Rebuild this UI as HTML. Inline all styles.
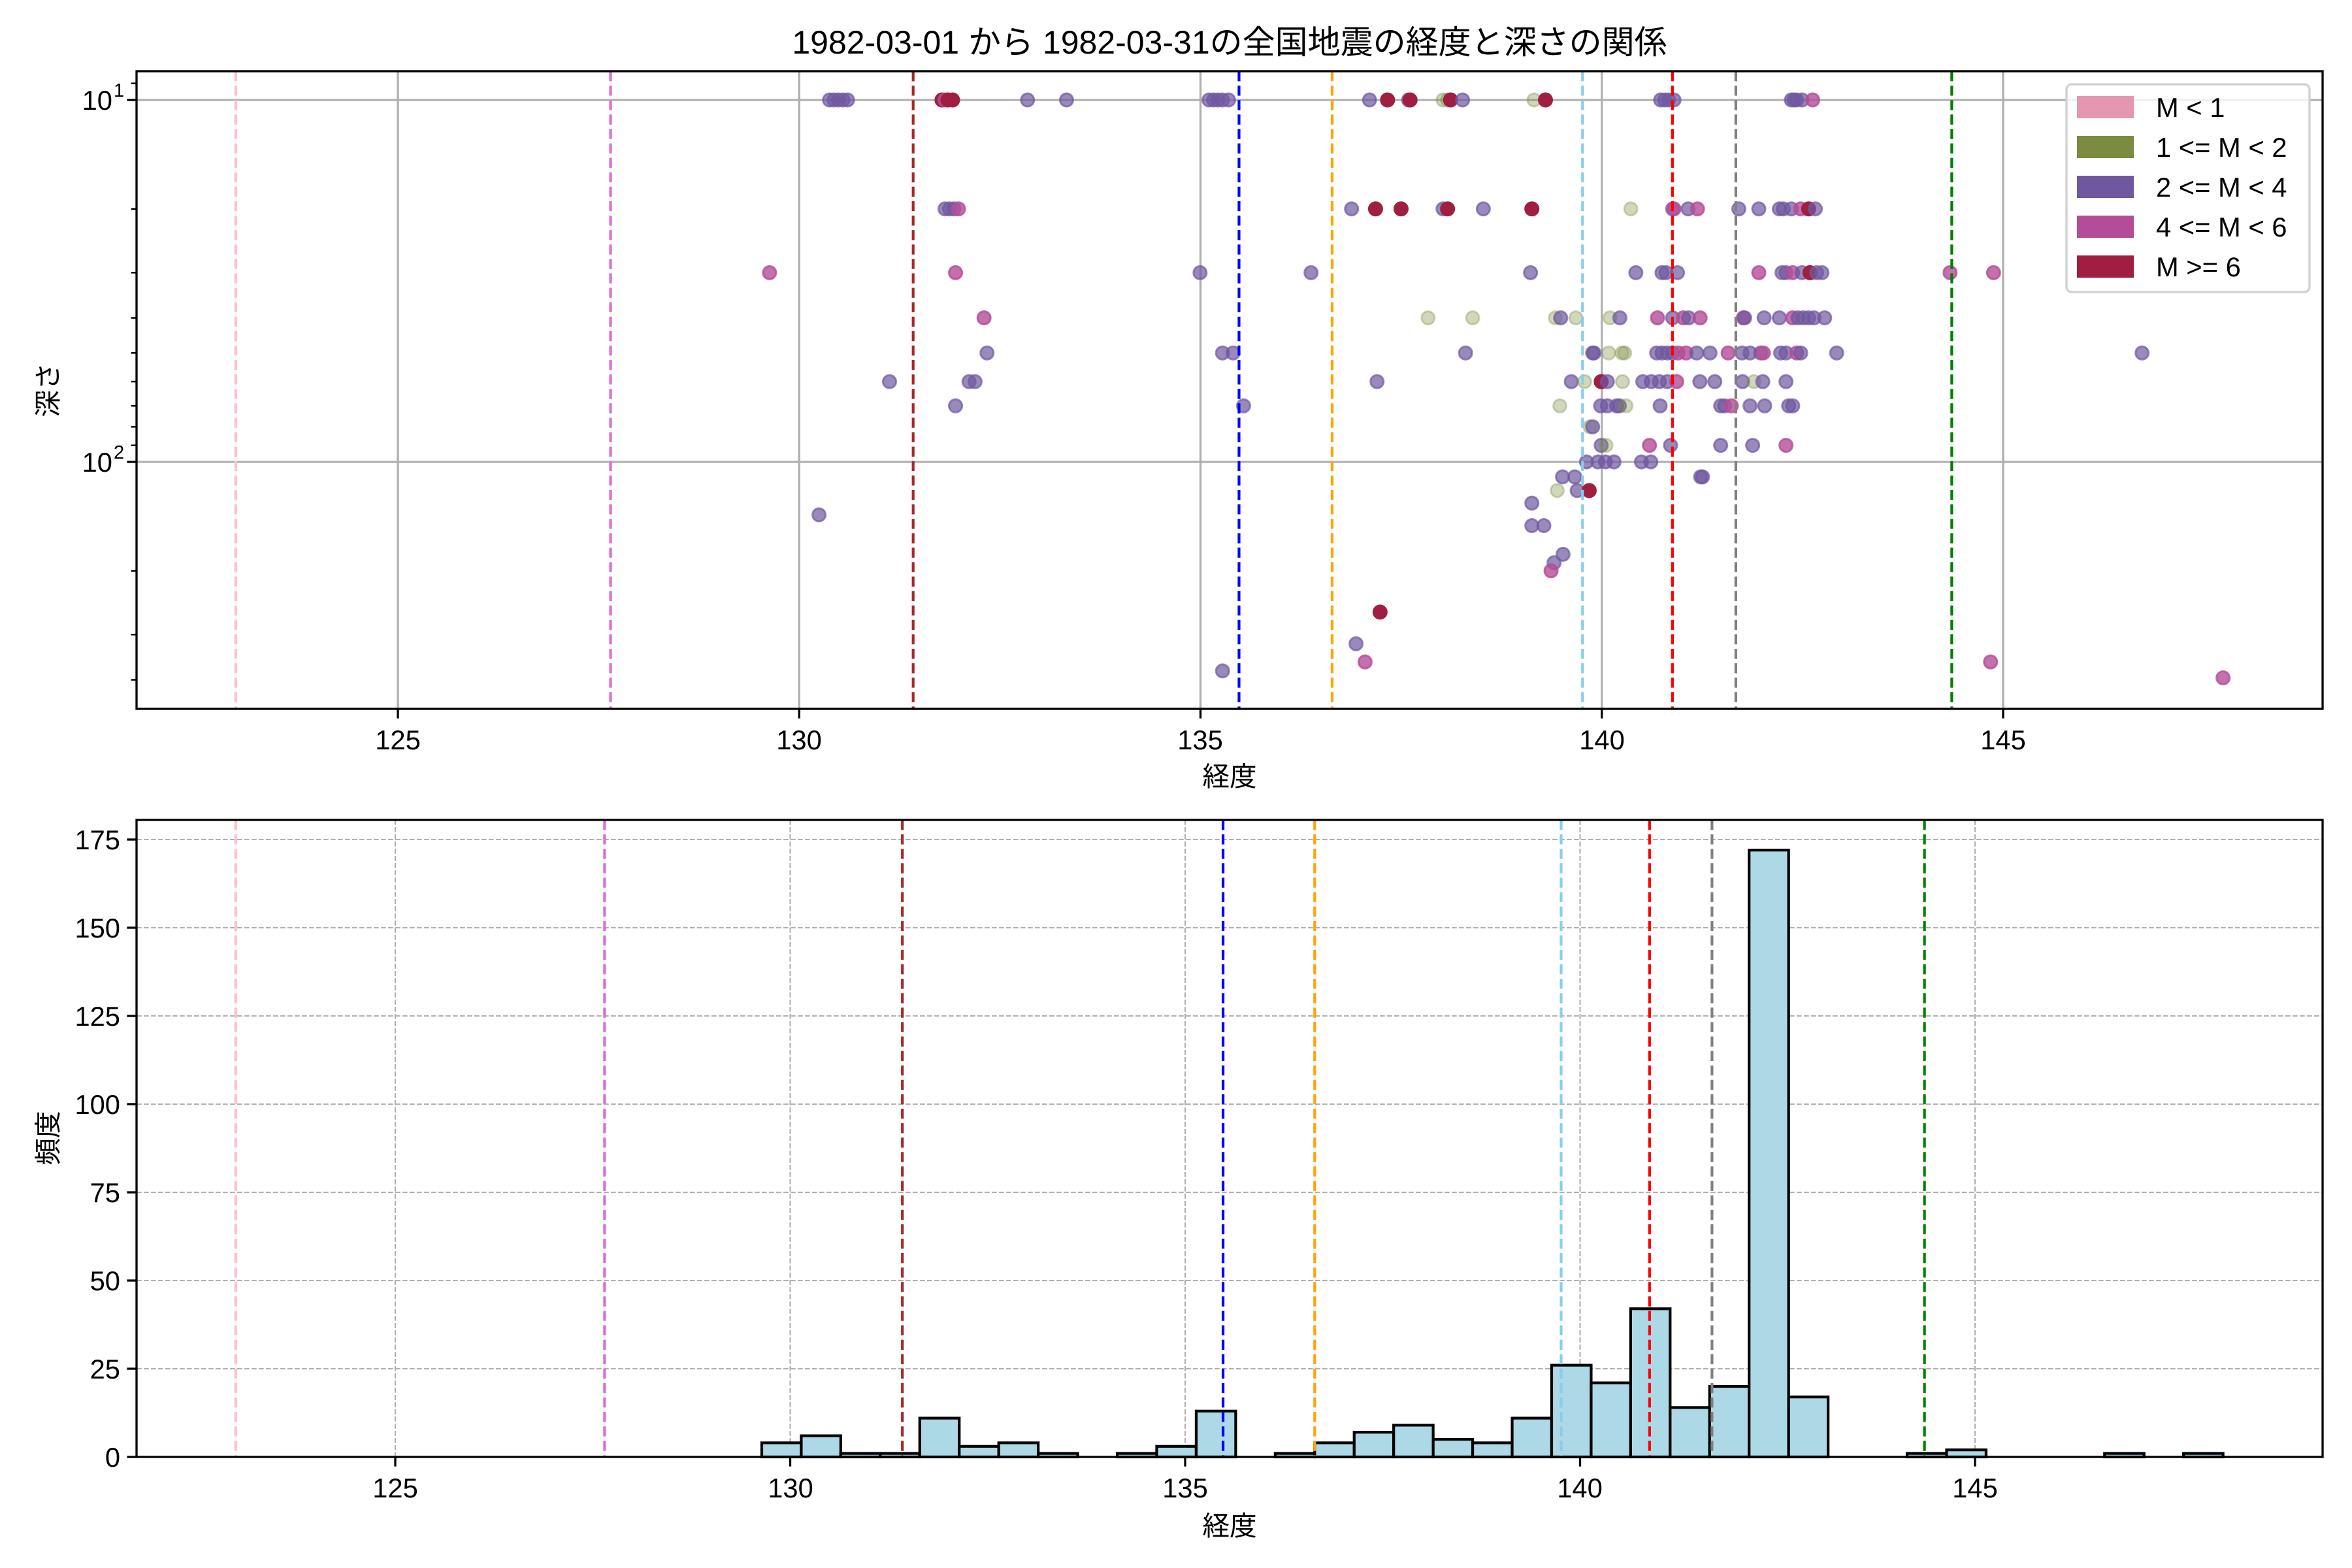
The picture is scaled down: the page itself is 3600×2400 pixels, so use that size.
<!DOCTYPE html>
<html><head><meta charset="utf-8">
<style>
html,body{margin:0;padding:0;background:#fff;}
svg{display:block;}
text{font-family:"Liberation Sans","Noto Sans CJK JP",sans-serif;fill:#000;}
</style></head>
<body>
<svg id="s" xmlns="http://www.w3.org/2000/svg" width="3600" height="2400" viewBox="0 0 3600 2400">
<rect width="3600" height="2400" fill="#fff"/>
<g id="g1"></g>
<text x="1882" y="82" font-size="50" text-anchor="middle">1982-03-01 から 1982-03-31の全国地震の経度と深さの関係</text>
<text x="1882" y="1203" font-size="41.7" text-anchor="middle">経度</text>
<text x="1882" y="2350" font-size="41.7" text-anchor="middle">経度</text>
<text transform="translate(88,597) rotate(-90)" font-size="41.7" text-anchor="middle">深さ</text>
<text transform="translate(88,1742) rotate(-90)" font-size="41.7" text-anchor="middle">頻度</text>
<text x="172" y="168" font-size="41.7" text-anchor="end">10</text><text x="174" y="148" font-size="29">1</text>
<text x="172" y="722" font-size="41.7" text-anchor="end">10</text><text x="174" y="702" font-size="29">2</text>
<g font-size="41.7" text-anchor="middle">
<text x="609" y="1147">125</text><text x="1223" y="1147">130</text><text x="1837" y="1147">135</text><text x="2452" y="1147">140</text><text x="3066" y="1147">145</text>
<text x="605" y="2292">125</text><text x="1210" y="2292">130</text><text x="1814" y="2292">135</text><text x="2418" y="2292">140</text><text x="3023" y="2292">145</text>
</g>
<g font-size="41.7" text-anchor="end">
<text x="184" y="2245">0</text><text x="184" y="2110">25</text><text x="184" y="1975">50</text><text x="184" y="1840">75</text>
<text x="184" y="1705">100</text><text x="184" y="1570">125</text><text x="184" y="1435">150</text><text x="184" y="1300">175</text>
</g>
<g id="leg">
<rect x="3163" y="129" width="372" height="318" rx="8" fill="#fff" fill-opacity="0.8" stroke="#d0d0d0" stroke-width="3.3"/>
<rect x="3179" y="147" width="87" height="34" fill="#e596b0"/>
<rect x="3179" y="208" width="87" height="34" fill="#7b8b40"/>
<rect x="3179" y="269" width="87" height="34" fill="#6f58a0"/>
<rect x="3179" y="330" width="87" height="34" fill="#b44c97"/>
<rect x="3179" y="391" width="87" height="34" fill="#a01f40"/>
<g font-size="41.7">
<text x="3300" y="179">M &lt; 1</text>
<text x="3300" y="240">1 &lt;= M &lt; 2</text>
<text x="3300" y="301">2 &lt;= M &lt; 4</text>
<text x="3300" y="362">4 &lt;= M &lt; 6</text>
<text x="3300" y="423">M &gt;= 6</text>
</g></g>
</svg>
<script>
(function(){
var NS="http://www.w3.org/2000/svg",g=document.getElementById("g1");
function el(t,a){var e=document.createElementNS(NS,t);for(var k in a)e.setAttribute(k,a[k]);g.appendChild(e);return e;}
var L=209,R=3555,T1=109,B1=1085,T2=1255,B2=2230;
function xt(l){return 609+(l-125)*122.85;}
function xb(l){return 605+(l-125)*120.9;}
function yd(d){return 153+554*Math.log10(d/10);}
function yc(c){return 2230-c*5.4;}
// grids top
[125,130,135,140,145].forEach(function(l){el("line",{x1:xt(l),x2:xt(l),y1:T1,y2:B1,stroke:"#b0b0b0","stroke-width":3.3});});
[10,100].forEach(function(d){el("line",{x1:L,x2:R,y1:yd(d),y2:yd(d),stroke:"#b0b0b0","stroke-width":3.3});});
// grids bottom
[125,130,135,140,145].forEach(function(l){el("line",{x1:xb(l),x2:xb(l),y1:T2,y2:B2,stroke:"#b0b0b0","stroke-width":2.1,"stroke-dasharray":"7.7 3.3"});});
for(var c=0;c<=175;c+=25){el("line",{x1:L,x2:R,y1:yc(c),y2:yc(c),stroke:"#b0b0b0","stroke-width":2.1,"stroke-dasharray":"7.7 3.3"});}
// vlines
var VL=[[122.98,"pink"],[127.65,"orchid"],[131.42,"brown"],[135.48,"blue"],[136.64,"orange"],[139.76,"skyblue"],[140.88,"red"],[141.67,"gray"],[144.36,"green"]];
// scatter
var C={a:["#7b8b40",0.35],b:["#6f58a0",0.7],c:["#b44c97",0.8],d:["#a01f40",1]};
var pts=[];
var disp=[[553,10,'b'],[556,10,'b'],[559,10,'b'],[562,10,'b'],[565,10,'b'],[628,10,'d'],[630,10,'c'],[632,10,'d'],[635,10,'d'],[685,10,'b'],[711,10,'b'],[806,10,'b'],[809,10,'b'],[812,10,'b'],[815,10,'b'],[819,10,'b'],[913,10,'b'],[925,10,'d'],[939,10,'b'],[940,10,'d'],[962,10,'a'],[965,10,'a'],[967,10,'d'],[975,10,'b'],
[630,20,'b'],[633,20,'b'],[636,20,'b'],[639,20,'c'],[901,20,'b'],[917,20,'d'],[934,20,'d'],[962,20,'b'],[965,20,'d'],
[513,30,'c'],[637,30,'c'],[800,30,'b'],[874,30,'b'],[1300,30,'c'],[1329,30,'c'],
[656,40,'c'],[952,40,'a'],[658,50,'b'],[815,50,'b'],[822,50,'b'],[977,50,'b'],[1428,50,'b'],
[593,60,'b'],[646,60,'b'],[650,60,'b'],[918,60,'b'],[637,70,'b'],[829,70,'b'],[546,140,'b'],
[1042,180,'b'],[1036,190,'b'],[1034,200,'c'],[920,260,'d'],[904,318,'b'],[910,357,'c'],[815,378,'b'],[1327,357,'c'],[1482,395,'c']];
disp.forEach(function(p){pts.push([p[0]*2.296,p[1],p[2]]);});
var Z={10:[[240,'a'],[283,'d'],[715,'b'],[730,'b'],[745,'b'],[765,'b'],[1205,'b'],[1215,'b'],[1225,'b'],[1245,'b'],[1285,'c']],
20:[[50,'b'],[232,'d'],[603,'a'],[760,'b'],[765,'c'],[818,'b'],[853,'c'],[1008,'b'],[1083,'b'],[1160,'b'],[1175,'b'],[1205,'b'],[1240,'c'],[1270,'d'],[1295,'b']],
30:[[227,'b'],[622,'b'],[720,'b'],[735,'b'],[778,'b'],[1083,'c'],[1170,'b'],[1185,'b'],[1210,'c'],[1245,'b'],[1275,'d'],[1300,'b'],[1320,'b']],
40:[[10,'a'],[320,'a'],[340,'b'],[397,'a'],[525,'a'],[562,'b'],[703,'c'],[760,'b'],[800,'c'],[820,'b'],[863,'c'],[1025,'c'],[1030,'b'],[1103,'b'],[1160,'b'],[1210,'c'],[1230,'b'],[1250,'b'],[1270,'b'],[1290,'b'],[1330,'b']],
50:[[460,'b'],[465,'b'],[520,'a'],[570,'a'],[580,'a'],[700,'b'],[720,'b'],[740,'b'],[760,'b'],[780,'c'],[810,'c'],[850,'b'],[900,'b'],[968,'c'],[1020,'b'],[1050,'b'],[1090,'b'],[1100,'c'],[1165,'b'],[1185,'b'],[1225,'c'],[1240,'b'],[1375,'b']],
60:[[380,'b'],[430,'a'],[492,'d'],[515,'b'],[572,'a'],[648,'b'],[680,'b'],[710,'b'],[740,'b'],[775,'c'],[862,'b'],[918,'b'],[1022,'b'],[1065,'a'],[1098,'b'],[1185,'b']],
70:[[337,'a'],[490,'b'],[515,'b'],[550,'b'],[560,'b'],[585,'a'],[713,'b'],[940,'b'],[955,'b'],[980,'c'],[1050,'b'],[1105,'b'],[1195,'b'],[1210,'b']],
80:[[450,'a'],[460,'b']],
90:[[492,'b'],[510,'a'],[673,'c'],[752,'b'],[940,'b'],[1060,'b'],[1185,'c']],
100:[[437,'b'],[480,'b'],[508,'b'],[540,'b'],[643,'b'],[678,'b']],
110:[[347,'b'],[393,'b'],[865,'b'],[872,'b']],
120:[[327,'a'],[402,'b'],[447,'d']],
130:[[232,'b']],150:[[232,'b'],[277,'b']]};
for(var d in Z){Z[d].forEach(function(p){pts.push([2250+p[0]/2.45,+d,p[1]]);});}
pts.forEach(function(p){var k=C[p[2]];el("circle",{cx:p[0],cy:yd(p[1]),r:10,fill:k[0],"fill-opacity":k[1],stroke:k[0],"stroke-opacity":k[1],"stroke-width":3});});
VL.forEach(function(v){el("line",{x1:xt(v[0]),x2:xt(v[0]),y1:T1,y2:B1,stroke:v[1],"stroke-width":4.2,"stroke-dasharray":"15.4 6.7"});});
// histogram
var H=[4,6,1,1,11,3,4,1,0,1,3,13,0,1,4,7,9,5,4,11,26,21,42,14,20,172,17,0,0,1,2,0,0,0,1,0,1];
H.forEach(function(h,i){var l=129.64+0.5*i,x0=xb(l),x1=xb(l+0.5);el("rect",{x:x0,y:yc(h),width:x1-x0,height:h*5.4,fill:"#add8e6",stroke:"#000","stroke-width":4.2});});
VL.forEach(function(v){el("line",{x1:xb(v[0]),x2:xb(v[0]),y1:T2,y2:B2,stroke:v[1],"stroke-width":4.2,"stroke-dasharray":"15.4 6.7"});});
// spines
el("rect",{x:L,y:T1,width:R-L,height:B1-T1,fill:"none",stroke:"#000","stroke-width":3.3});
el("rect",{x:L,y:T2,width:R-L,height:B2-T2,fill:"none",stroke:"#000","stroke-width":3.3});
// ticks
[125,130,135,140,145].forEach(function(l){el("line",{x1:xt(l),x2:xt(l),y1:B1,y2:B1+14.6,stroke:"#000","stroke-width":3.3});el("line",{x1:xb(l),x2:xb(l),y1:B2,y2:B2+14.6,stroke:"#000","stroke-width":3.3});});
[10,100].forEach(function(d){el("line",{x1:L-14.6,x2:L,y1:yd(d),y2:yd(d),stroke:"#000","stroke-width":3.3});});
[9,20,30,40,50,60,70,80,90,200,300,400].forEach(function(d){el("line",{x1:L-8.3,x2:L,y1:yd(d),y2:yd(d),stroke:"#000","stroke-width":2.5});});
for(var c2=0;c2<=175;c2+=25){el("line",{x1:L-14.6,x2:L,y1:yc(c2),y2:yc(c2),stroke:"#000","stroke-width":3.3});}
// bring legend to top
var s=document.getElementById("s");s.appendChild(document.getElementById("leg"));
})();
</script>
</body></html>
